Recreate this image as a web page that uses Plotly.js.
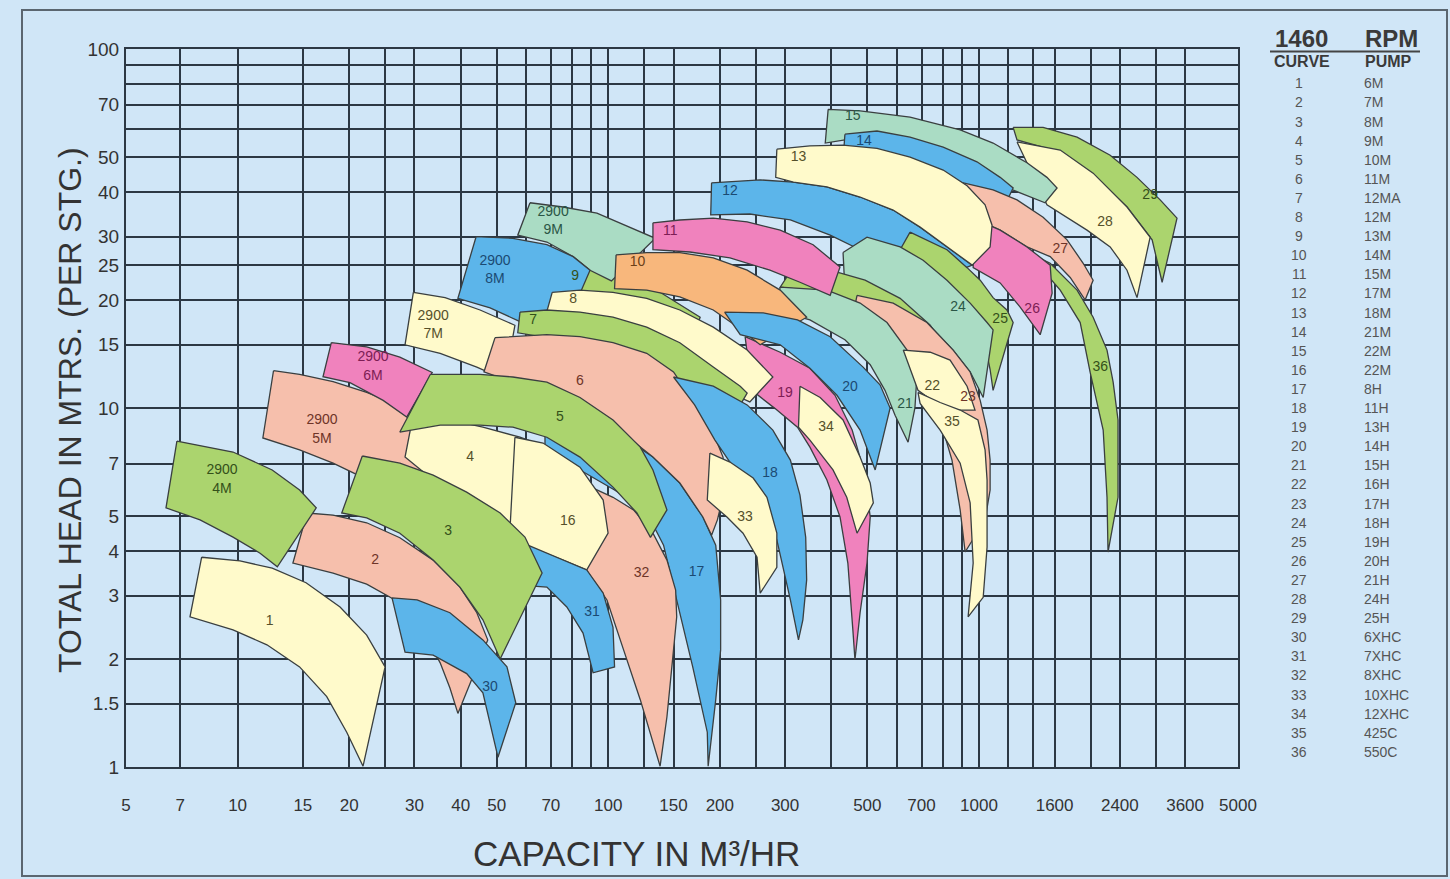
<!DOCTYPE html>
<html><head><meta charset="utf-8">
<script src="https://cdn.plot.ly/plotly-3.0.1.min.js"></script>
<style>html,body{margin:0;padding:0;background:#d0e6f7;}#chart{width:1450px;height:879px;}</style>
</head><body><div id="chart"></div>
<script>
// ---------- axes / table data ----------
const X_GRID = [5,7,10,15,20,25,30,40,50,60,70,80,90,100,125,150,200,250,300,400,500,600,700,800,900,1000,1200,1400,1600,2000,2400,3000,3600,5000];
const X_LABELS = [5,7,10,15,20,30,40,50,70,100,150,200,300,500,700,1000,1600,2400,3600,5000];
const Y_GRID = [1,1.5,2,3,4,5,7,10,15,20,25,30,40,50,60,70,80,90,100];
const Y_LABELS = [1,1.5,2,3,4,5,7,10,15,20,25,30,40,50,70,100];
const CURVE_NUMBERS = [1,2,3,4,5,6,7,8,9,10,11,12,13,14,15,16,17,18,19,20,21,22,23,24,25,26,27,28,29,30,31,32,33,34,35,36];
const PUMP_NAMES = ['6M','7M','8M','9M','10M','11M','12MA','12M','13M','14M','15M','17M','18M','21M','22M','22M','8H','11H','13H','14H','15H','16H','17H','18H','19H','20H','21H','24H','25H','6XHC','7XHC','8XHC','10XHC','12XHC','425C','550C'];

// ---------- operating regions: outline as [capacity m3/hr, head m] ----------
const R01 = [[8.0,3.84],[10.15,3.75],[12.4,3.58],[15.3,3.26],[18.9,2.79],[22.3,2.33],[25.0,1.90],[21.8,1.005],[19.7,1.25],[17.4,1.57],[14.7,1.9],[12.0,2.19],[9.72,2.41],[7.44,2.62]];
const R02 = [[15.4,5.10],[18.1,5.03],[22.3,4.79],[27.4,4.35],[33.7,3.77],[39.8,3.17],[44.2,2.69],[47.3,2.26],[39.3,1.41],[37.4,1.66],[35.2,1.95],[31.1,2.49],[26.6,2.92],[22.3,3.23],[18.1,3.47],[14.1,3.70]];
const R03 = [[21.7,7.35],[27.4,7.02],[33.7,6.50],[41.5,5.83],[51.1,5.10],[59.6,4.37],[66.3,3.47],[51.1,2.00],[45.9,2.57],[39.8,3.17],[33.7,3.77],[27.4,4.48],[22.3,4.94],[19.1,5.10]];
const R04 = [[29.6,9.26],[37.4,9.26],[45.9,8.84],[57.8,8.29],[69.7,7.72],[69.7,3.77],[61.5,4.15],[51.1,4.88],[41.5,5.54],[33.7,6.30],[28.3,7.30]];
const R05 = [[33.1,12.4],[45.1,12.4],[55.3,12.2],[68.3,11.8],[83.9,10.7],[103,9.26],[122,7.78],[132,6.72],[144,5.20],[130,4.36],[119.5,5.10],[103,6.02],[83.9,7.30],[68.3,8.29],[55.3,8.84],[45.1,8.96],[35.2,8.96],[27.4,8.57]];
const R06 = [[49.5,15.7],[55.3,15.8],[68.3,16.0],[83.9,15.8],[103,15.2],[127,14.2],[150,12.6],[169,10.5],[192,8.52],[204,7.30],[206,5.91],[197,4.88],[190,4.42],[180,4.97],[156,6.18],[132,7.30],[113,8.29],[95.1,9.55],[74.1,10.85],[57.8,11.6],[46.2,12.6]];
const R07 = [[57.8,18.5],[68.3,18.75],[83.9,18.5],[103,17.9],[127,16.8],[156,15.2],[192,13.0],[227,11.5],[237,11.0],[227,10.2],[206,10.4],[177,11.1],[152,12.15],[127,13.8],[103,14.8],[83.9,15.5],[68.3,15.7],[57.0,16.2]];
const R08 = [[70.6,21.0],[83.9,21.3],[103,21.0],[127,20.2],[156,18.75],[192,16.8],[237,14.5],[278,12.2],[241,10.4],[220,10.85],[192,11.8],[156,13.6],[127,15.2],[103,16.2],[83.9,16.8],[67.5,17.8]];
const R09 = [[86.5,25.5],[108,23.9],[138,21.0],[177,17.9],[166,15.0],[130,17.6],[101,20.0],[82.3,21.0]];
const R10 = [[105,26.7],[127,27.1],[156,27.1],[192,26.2],[237,24.2],[291,21.3],[343,17.9],[257,15.0],[220,17.0],[192,18.75],[156,20.4],[127,21.3],[104,21.5]];
const R11 = [[132,32.8],[156,33.4],[192,33.8],[237,33.0],[291,31.3],[357,28.5],[422,24.7],[397,20.6],[329,22.4],[273,24.2],[213,26.2],[166,27.2],[132,27.6]];
const R12 = [[190,42.4],[257,43.2],[316,42.6],[389,41.3],[478,38.7],[587,35.6],[694,31.9],[820,28.1],[959,25.0],[652,21.3],[576,24.2],[478,27.6],[397,30.3],[310,33.4],[241,34.7],[189,34.5]];
const R13 = [[285,52.6],[350,53.7],[430,54.0],[531,52.9],[652,50.0],[801,46.0],[929,41.6],[1039,36.8],[1085,32.3],[1072,28.1],[959,25.0],[820,28.1],[694,31.9],[587,35.6],[478,38.7],[389,41.3],[316,42.6],[283,43.9]];
const R14 = [[435,57.9],[531,59.1],[652,56.8],[801,53.3],[988,48.5],[1141,43.9],[1237,41.0],[1176,36.8],[890,41.8],[694,46.0],[541,48.5],[430,49.1]];
const R15 = [[392,67.9],[478,67.2],[652,64.6],[890,59.5],[1092,54.7],[1348,48.2],[1526,43.9],[1625,41.0],[1508,37.3],[1141,41.8],[890,46.6],[694,50.6],[541,54.0],[435,55.8],[385,54.7]];
const R16 = [[56.0,8.29],[66.7,7.99],[83.9,6.84],[96.9,5.54],[99.9,4.48],[87.5,3.54],[75.5,3.77],[61.5,4.10],[54.3,4.57]];
const R17 = [[67.5,8.96],[89.3,8.68],[113,8.14],[132,7.30],[156,6.18],[180,4.97],[195,4.15],[201,2.92],[201,2.12],[195,1.54],[186,1.005],[185,1.25],[169,1.90],[153,2.92],[141,4.15],[126,5.20],[104,5.91],[83.9,6.72],[67.5,7.72]];
const R18 = [[150,12.2],[192,11.5],[237,10.2],[278,8.68],[310,7.16],[329,5.72],[341,4.36],[343,3.32],[335,2.57],[326,2.26],[310,2.92],[285,4.29],[257,5.54],[220,6.72],[194,8.14],[171,10.2]];
const R19 = [[234,15.8],[291,14.3],[350,12.9],[409,10.85],[455,8.68],[493,6.50],[509,4.97],[499,3.70],[478,2.69],[463,1.99],[457,2.41],[443,3.70],[422,4.97],[389,6.30],[350,7.78],[324,8.84],[282,9.96],[244,11.2]];
const R20 = [[206,18.5],[262,18.4],[324,17.6],[397,15.8],[487,13.0],[541,11.6],[576,10.0],[525,6.72],[478,8.68],[414,10.85],[350,12.9],[291,15.0],[227,16.0]];
const R21 = [[291,21.7],[389,21.3],[478,19.6],[565,17.3],[640,14.5],[680,12.2],[672,10.0],[644,8.03],[594,9.55],[558,11.2],[509,13.2],[435,15.5],[350,17.6],[282,18.75]];
const R22 = [[625,14.5],[739,14.3],[836,13.6],[929,11.5],[976,9.87],[836,9.87],[739,10.6],[685,11.2]];
const R23 = [[469,20.6],[587,19.6],[724,17.3],[852,14.5],[947,12.6],[1008,10.5],[1052,8.68],[1072,7.16],[1072,5.91],[1039,4.88],[918,3.97],[890,5.20],[846,7.16],[786,9.26],[716,11.6],[632,13.6],[541,15.5],[449,16.5]];
const R24 = [[430,27.1],[499,29.9],[613,28.1],[707,25.8],[820,22.7],[947,19.6],[1052,17.3],[1092,16.5],[1027,10.7],[947,12.6],[852,14.5],[724,17.3],[587,19.6],[469,20.6],[435,21.3]];
const R25 = [[652,30.9],[707,29.7],[820,27.6],[929,24.6],[1008,22.7],[1092,20.3],[1190,18.75],[1237,17.3],[1092,11.2],[1072,12.8],[1039,15.0],[976,18.2],[862,21.3],[739,24.5],[613,27.6]];
const R26 = [[965,33.8],[1141,31.3],[1348,28.1],[1557,25.0],[1576,20.9],[1463,16.0],[1292,19.1],[1141,22.3],[965,24.6]];
const R27 = [[716,43.7],[890,42.6],[1092,40.5],[1267,38.0],[1490,34.0],[1729,29.4],[1911,25.3],[2033,22.7],[1934,20.0],[1763,23.1],[1557,26.4],[1348,28.1],[1141,31.3],[965,33.8],[890,34.5]];
const R28 = [[1267,55.1],[1657,52.3],[2033,45.1],[2509,36.3],[2897,29.9],[2670,20.3],[2509,24.2],[2260,28.1],[1957,31.3],[1657,34.9],[1526,36.8]];
const R29 = [[1237,60.5],[1490,60.5],[1840,56.8],[2260,50.6],[2670,43.9],[3083,38.0],[3423,33.8],[3121,22.4],[2933,29.4],[2509,36.3],[2033,44.5],[1657,51.6],[1267,55.8]];
const R30 = [[26.1,2.96],[30.5,2.92],[37.4,2.69],[45.9,2.26],[53.3,1.90],[56.3,1.51],[50.4,1.065],[45.9,1.61],[41.5,1.82],[33.7,2.05],[28.3,2.09]];
const R31 = [[60.7,4.15],[75.5,3.77],[87.5,3.54],[96.9,3.05],[103,2.45],[104,1.90],[91.0,1.83],[85.5,2.36],[77.3,2.79],[68.3,3.17],[57.8,3.21]];
const R32 = [[74.1,6.38],[87.5,6.10],[103,5.64],[117,5.20],[132,4.48],[144,3.77],[152,3.11],[153,2.62],[150,2.12],[144,1.38],[138,1.005],[122,1.54],[110,2.12],[99.2,2.92],[91.0,3.32],[83.9,3.77],[71.9,4.29]];
const R33 = [[188,7.49],[213,7.07],[246,6.38],[268,5.64],[285,4.48],[285,3.60],[257,3.05],[252,3.84],[231,4.48],[209,4.97],[185,5.54]];
const R34 = [[329,11.5],[373,10.7],[430,9.26],[478,7.30],[509,6.18],[519,5.44],[469,4.48],[440,5.64],[404,6.72],[350,8.14],[326,8.84]];
const R35 = [[685,11.06],[786,10.36],[890,9.87],[994,9.26],[1039,7.64],[1052,6.30],[1052,4.10],[1027,2.97],[935,2.62],[965,3.70],[947,5.44],[890,7.02],[786,8.68],[694,10.3]];
const R36 = [[1348,27.2],[1557,25.3],[1840,21.3],[2033,17.9],[2216,14.5],[2302,11.8],[2373,9.26],[2373,5.64],[2230,3.97],[2216,5.64],[2164,8.68],[1996,12.56],[1876,17.3],[1657,21.3],[1490,24.2],[1332,26.2]];
const R4M = [[6.86,8.09],[9.72,7.54],[12.4,6.72],[14.7,5.91],[16.3,5.27],[12.8,3.61],[11.5,3.94],[9.72,4.37],[7.92,4.88],[6.41,5.27]];
const R5M = [[12.5,12.7],[14.7,12.4],[18.1,11.85],[22.3,11.06],[27.4,10.17],[33.1,8.96],[30.1,5.36],[25.8,5.83],[21.4,6.46],[18.1,7.02],[14.7,7.64],[11.7,8.25]];
const R6M = [[17.9,15.2],[22.3,14.8],[27.4,13.85],[33.5,12.56],[28.6,9.43],[24.7,10.5],[20.1,11.77],[17.0,12.22]];
const R7M = [[29.8,21.0],[36.3,20.3],[45.1,18.75],[56.0,17.0],[52.7,12.0],[44.2,13.0],[35.2,14.2],[28.3,15.0]];
const R8M = [[44.0,30.0],[55.3,29.7],[68.3,28.5],[80.4,26.4],[89.3,24.2],[74.1,15.5],[57.8,17.4],[48.0,19.0],[39.3,20.2]];
const R9M = [[61.5,37.3],[75.5,36.3],[93.2,34.9],[114.5,31.9],[134,29.7],[102,22.6],[89.3,24.2],[80.4,26.4],[68.3,29.0],[57.0,30.3]];
const RG1 = [[314,24.5],[397,24.2],[493,22.7],[613,20.2],[739,17.0],[836,14.0],[694,12.0],[640,14.3],[565,17.0],[478,19.4],[389,21.0],[291,21.7]];

// label text and anchor (capacity, head) for each region
const REGION_TEXT = {'1':'1','2':'2','3':'3','4':'4','5':'5','6':'6','7':'7','8':'8','9':'9','10':'10','11':'11','12':'12','13':'13','14':'14','15':'15','16':'16','17':'17','18':'18','19':'19','20':'20','21':'21','22':'22','23':'23','24':'24','25':'25','26':'26','27':'27','28':'28','29':'29','30':'30','31':'31','32':'32','33':'33','34':'34','35':'35','36':'36','4M':'2900<br>4M','5M':'2900<br>5M','6M':'2900<br>6M','7M':'2900<br>7M','8M':'2900<br>8M','9M':'2900<br>9M'};
const LABEL_AT = {'1':[12.2,2.54],'2':[23.5,3.77],'3':[37.0,4.54],'4':[42.4,7.30],'5':[74.1,9.43],'6':[83.9,11.85],'7':[62.7,17.5],'8':[80.4,20.0],'9':[81.4,23.3],'10':[120,25.5],'11':[147,31.1],'12':[213,40.0],'13':[326,50.0],'14':[490,55.4],'15':[457,65.0],'16':[77.8,4.82],'17':[173,3.49],'18':[273,6.59],'19':[300,11.0],'20':[449,11.4],'21':[632,10.2],'22':[748,11.5],'23':[935,10.7],'24':[878,19.1],'25':[1141,17.6],'26':[1392,18.75],'27':[1657,27.7],'28':[2190,32.8],'29':[2897,39.2],'30':[48.0,1.66],'31':[90.4,2.69],'32':[123,3.47],'33':[234,4.97],'34':[387,8.84],'35':[846,9.14],'36':[2124,13.0],'4M':[9.08,6.30],'5M':[16.9,8.68],'6M':[23.2,13.0],'7M':[33.7,17.0],'8M':[49.5,24.2],'9M':[71.0,33.0]};

const OUTLINES = {'1':R01,'2':R02,'3':R03,'4':R04,'5':R05,'6':R06,'7':R07,'8':R08,'9':R09,'10':R10,'11':R11,'12':R12,'13':R13,'14':R14,'15':R15,'16':R16,'17':R17,'18':R18,'19':R19,'20':R20,'21':R21,'22':R22,'23':R23,'24':R24,'25':R25,'26':R26,'27':R27,'28':R28,'29':R29,'30':R30,'31':R31,'32':R32,'33':R33,'34':R34,'35':R35,'36':R36,'4M':R4M,'5M':R5M,'6M':R6M,'7M':R7M,'8M':R8M,'9M':R9M,'G1':RG1};

// ---------- styles ----------
const FILL = {yellow:'#fffacb', salmon:'#f6bfac', green:'#abd46e', blue:'#5cb5ea', magenta:'#f082bd', teal:'#aadcc4', orange:'#f8b77c'};
const INK = {yellow:'#55502a', salmon:'#6e3428', green:'#34501a', blue:'#1b4a73', magenta:'#7d1d55', teal:'#2a5646', orange:'#6b4018'};
const FAMILY = {'1':'yellow','2':'salmon','3':'green','4':'yellow','5':'green','6':'salmon','7':'green','8':'yellow','9':'green','10':'orange','11':'magenta','12':'blue','13':'yellow','14':'blue','15':'teal','16':'yellow','17':'blue','18':'blue','19':'magenta','20':'blue','21':'teal','22':'yellow','23':'salmon','24':'teal','25':'green','26':'magenta','27':'salmon','28':'yellow','29':'green','30':'blue','31':'blue','32':'salmon','33':'yellow','34':'yellow','35':'yellow','36':'green','4M':'green','5M':'salmon','6M':'magenta','7M':'yellow','8M':'blue','9M':'teal','G1':'green'};
const DRAW_ORDER = ['36','29','28','15','14','27','26','12','25','24','G1','23','21','22','35','13','9','9M','8M','7M','11','19','10','20','34','8','7','17','6','18','33','32','5M','6M','4','16','31','5','2','30','3','4M','1'];
const EDGE = '#3a3f40';
const GRID = '#2c3844';
const BG = '#d0e6f7';
const FONT = 'Liberation Sans, Arial, sans-serif';

const traces = DRAW_ORDER.map(id => {
  const pts = OUTLINES[id].concat([OUTLINES[id][0]]);
  return {type:'scatter', mode:'lines', x:pts.map(p=>p[0]), y:pts.map(p=>p[1]), fill:'toself',
    fillcolor:FILL[FAMILY[id]], line:{color:EDGE, width:1.3}, hoverinfo:'skip', showlegend:false};
});
const labelIds = Object.keys(LABEL_AT);
traces.push({type:'scatter', mode:'text', x:labelIds.map(k=>LABEL_AT[k][0]), y:labelIds.map(k=>LABEL_AT[k][1]),
  text:labelIds.map(k=>REGION_TEXT[k]), textposition:'middle center',
  textfont:{family:FONT, size:14, color:labelIds.map(k=>INK[FAMILY[k]])}, hoverinfo:'skip', showlegend:false});

// ---------- table at the right and titles (paper coords from pixel layout) ----------
const PL = 126, PW = 1112, PB = 767, PH = 718;
const px = v => (v - PL) / PW, py = v => (PB - v) / PH;
const ann = [];
const note = (x, y, text, size, color, bold, xanchor) => ann.push({xref:'paper', yref:'paper', x:px(x), y:py(y),
  xanchor:xanchor || 'center', yanchor:'middle', text: bold ? '<b>' + text + '</b>' : text, showarrow:false,
  font:{family:FONT, size:size, color:color}});
note(1301, 39, '1460', 24, '#3a3a3a', true);
note(1391, 39, 'RPM', 24, '#3a3a3a', true);
note(1302, 62, 'CURVE', 16, '#3a3a3a', true);
note(1388, 62, 'PUMP', 16, '#3a3a3a', true);
CURVE_NUMBERS.forEach((n, i) => {
  const yy = 83.3 + i * 19.1;
  note(1299, yy, String(n), 14, '#555', false);
  note(1362, yy, PUMP_NAMES[i], 14, '#555', false, 'left');
});
note(636, 853, 'CAPACITY IN M³/HR', 35, '#333', false);
ann.push({xref:'paper', yref:'paper', x:px(70), y:py(410), xanchor:'center', yanchor:'middle', textangle:-90,
  text:'TOTAL HEAD IN MTRS. (PER STG.)', showarrow:false, font:{family:FONT, size:32, color:'#333'}});

const layout = {
  width:1450, height:879, margin:{l:PL, r:1450-PL-PW, t:PB-PH, b:879-PB},
  paper_bgcolor:BG, plot_bgcolor:BG, hovermode:false,
  font:{family:FONT, color:'#333'},
  xaxis:{type:'log', range:[Math.log10(5), Math.log10(5000)], tickvals:X_GRID,
    ticktext:X_GRID.map(v => X_LABELS.includes(v) ? String(v) : ''), ticks:'', tickangle:0, ticklabelstandoff:22,
    showgrid:true, gridcolor:GRID, gridwidth:2, showline:true, mirror:true, linecolor:GRID, linewidth:2, zeroline:false,
    tickfont:{family:FONT, size:17, color:'#333'}},
  yaxis:{type:'log', range:[0, 2], tickvals:Y_GRID,
    ticktext:Y_GRID.map(v => Y_LABELS.includes(v) ? String(v) : ''), ticks:'', tickangle:0, ticklabelstandoff:1,
    showgrid:true, gridcolor:GRID, gridwidth:2, showline:true, mirror:true, linecolor:GRID, linewidth:2, zeroline:false,
    tickfont:{family:FONT, size:19, color:'#333'}},
  annotations:ann,
  shapes:[
    {type:'rect', xref:'paper', yref:'paper', x0:px(22), x1:px(1447), y0:py(876), y1:py(10), line:{color:'#5b6670', width:2}, fillcolor:'rgba(0,0,0,0)', layer:'below'},
    {type:'line', xref:'paper', yref:'paper', x0:px(1270), x1:px(1420), y0:py(51.5), y1:py(51.5), line:{color:'#444', width:2}}
  ]
};
Plotly.newPlot('chart', traces, layout, {staticPlot:true, displayModeBar:false});
</script></body></html>
